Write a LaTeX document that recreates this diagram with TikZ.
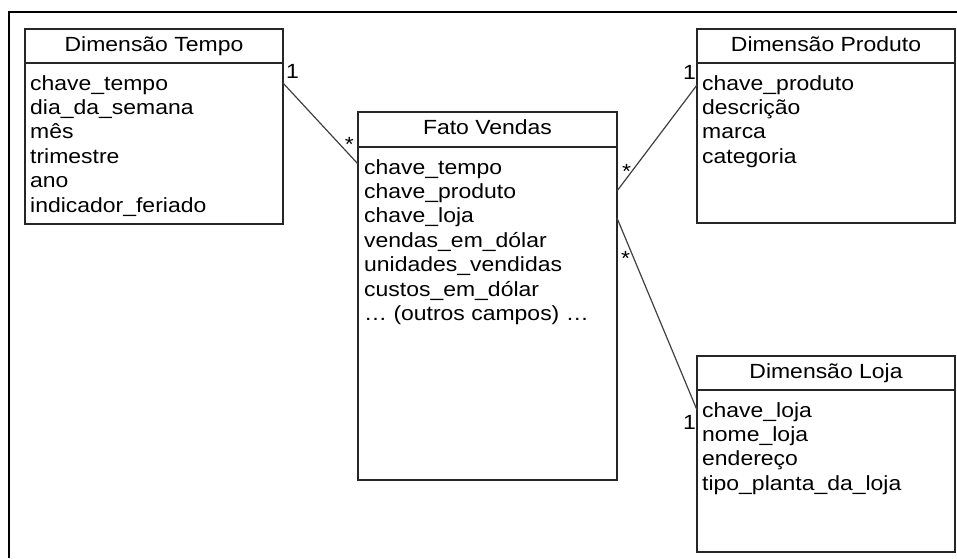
\documentclass[tikz,border=0pt]{standalone}
\usepackage{fontspec}
\setmainfont[FakeStretch=1.12]{Liberation Sans}
\usepackage{tikz}
\usetikzlibrary{positioning}
\newcommand{\tabfont}{\fontsize{20.5}{24.4}\selectfont}
\definecolor{borda}{HTML}{262626}
\definecolor{linha}{HTML}{404040}

\begin{document}
\begin{tikzpicture}[x=1pt,y=-1pt,
        titulo/.style={draw=borda,line width=1.6pt,minimum width=258pt,minimum height=34pt,inner sep=0pt,outer sep=0pt,text height=14pt,text depth=4pt,font=\tabfont,anchor=north west},
        corpo/.style={draw=borda,line width=1.6pt,minimum width=258pt,inner sep=0pt,outer sep=0pt,anchor=north},
        campos/.style={align=left,inner sep=0pt,font=\tabfont},
        mult/.style={inner sep=0pt,font=\tabfont},
        assoc/.style={draw=linha,line width=1.2pt}]
            \useasboundingbox (0,0) rectangle (957,558);
            \draw[line width=2pt] (9,558) -- (9,12) -- (957,12);

            \node[titulo] (tempo) at (25,29) {Dimensão Tempo};
            \node[corpo,minimum height=161pt] (tempob) at (tempo.south) {};
            \node[campos,below right=12pt and 5pt of tempob.north west] (tempoc) {chave\_tempo\\dia\_da\_semana\\mês\\trimestre\\ano\\indicador\_feriado};

            \node[titulo,minimum width=259pt,minimum height=35pt] (fato) at (358,112) {Fato Vendas};
            \node[corpo,minimum width=259pt,minimum height=333pt] (fatob) at (fato.south) {};
            \node[campos,below right=12pt and 6pt of fatob.north west] (fatoc) {chave\_tempo\\chave\_produto\\chave\_loja\\vendas\_em\_dólar\\unidades\_vendidas\\custos\_em\_dólar\\… (outros campos) …};

            \node[titulo] (produto) at (697,29) {Dimensão Produto};
            \node[corpo,minimum height=160pt] (produtob) at (produto.south) {};
            \node[campos,below right=12pt and 5pt of produtob.north west] (produtoc) {chave\_produto\\descrição\\marca\\categoria};

            \node[titulo] (loja) at (697,356) {Dimensão Loja};
            \node[corpo,minimum height=162pt] (lojab) at (loja.south) {};
            \node[campos,below right=12pt and 5pt of lojab.north west] (lojac) {chave\_loja\\nome\_loja\\endereço\\tipo\_planta\_da\_loja};

            \coordinate (t1) at ([yshift=-20pt]tempob.north east);
            \coordinate (f1) at ([yshift=-17pt]fatob.north west);
            \coordinate (f2) at ([yshift=-44pt]fatob.north east);
            \coordinate (f3) at ([yshift=-71pt]fatob.north east);
            \coordinate (p1) at ([yshift=-22pt]produtob.north west);
            \coordinate (l1) at ([yshift=-20pt]lojab.north west);

            \draw[assoc] (t1) -- (f1);
            \draw[assoc] (f2) -- (p1);
            \draw[assoc] (f3) -- (l1);

            \node[mult,above right=4pt and 3pt of t1] (m1) {1};
            \node[mult,above left=12.5pt and 4pt of f1] (m2) {*};
            \node[mult,above right=12pt and 5pt of f2] (m3) {*};
            \node[mult,above left=5pt and 1pt of p1] (m4) {1};
            \node[mult,below right=33pt and 4pt of f3] (m5) {*};
            \node[mult,below left=5pt and 1pt of l1] (m6) {1};
        \end{tikzpicture}
\end{document}
